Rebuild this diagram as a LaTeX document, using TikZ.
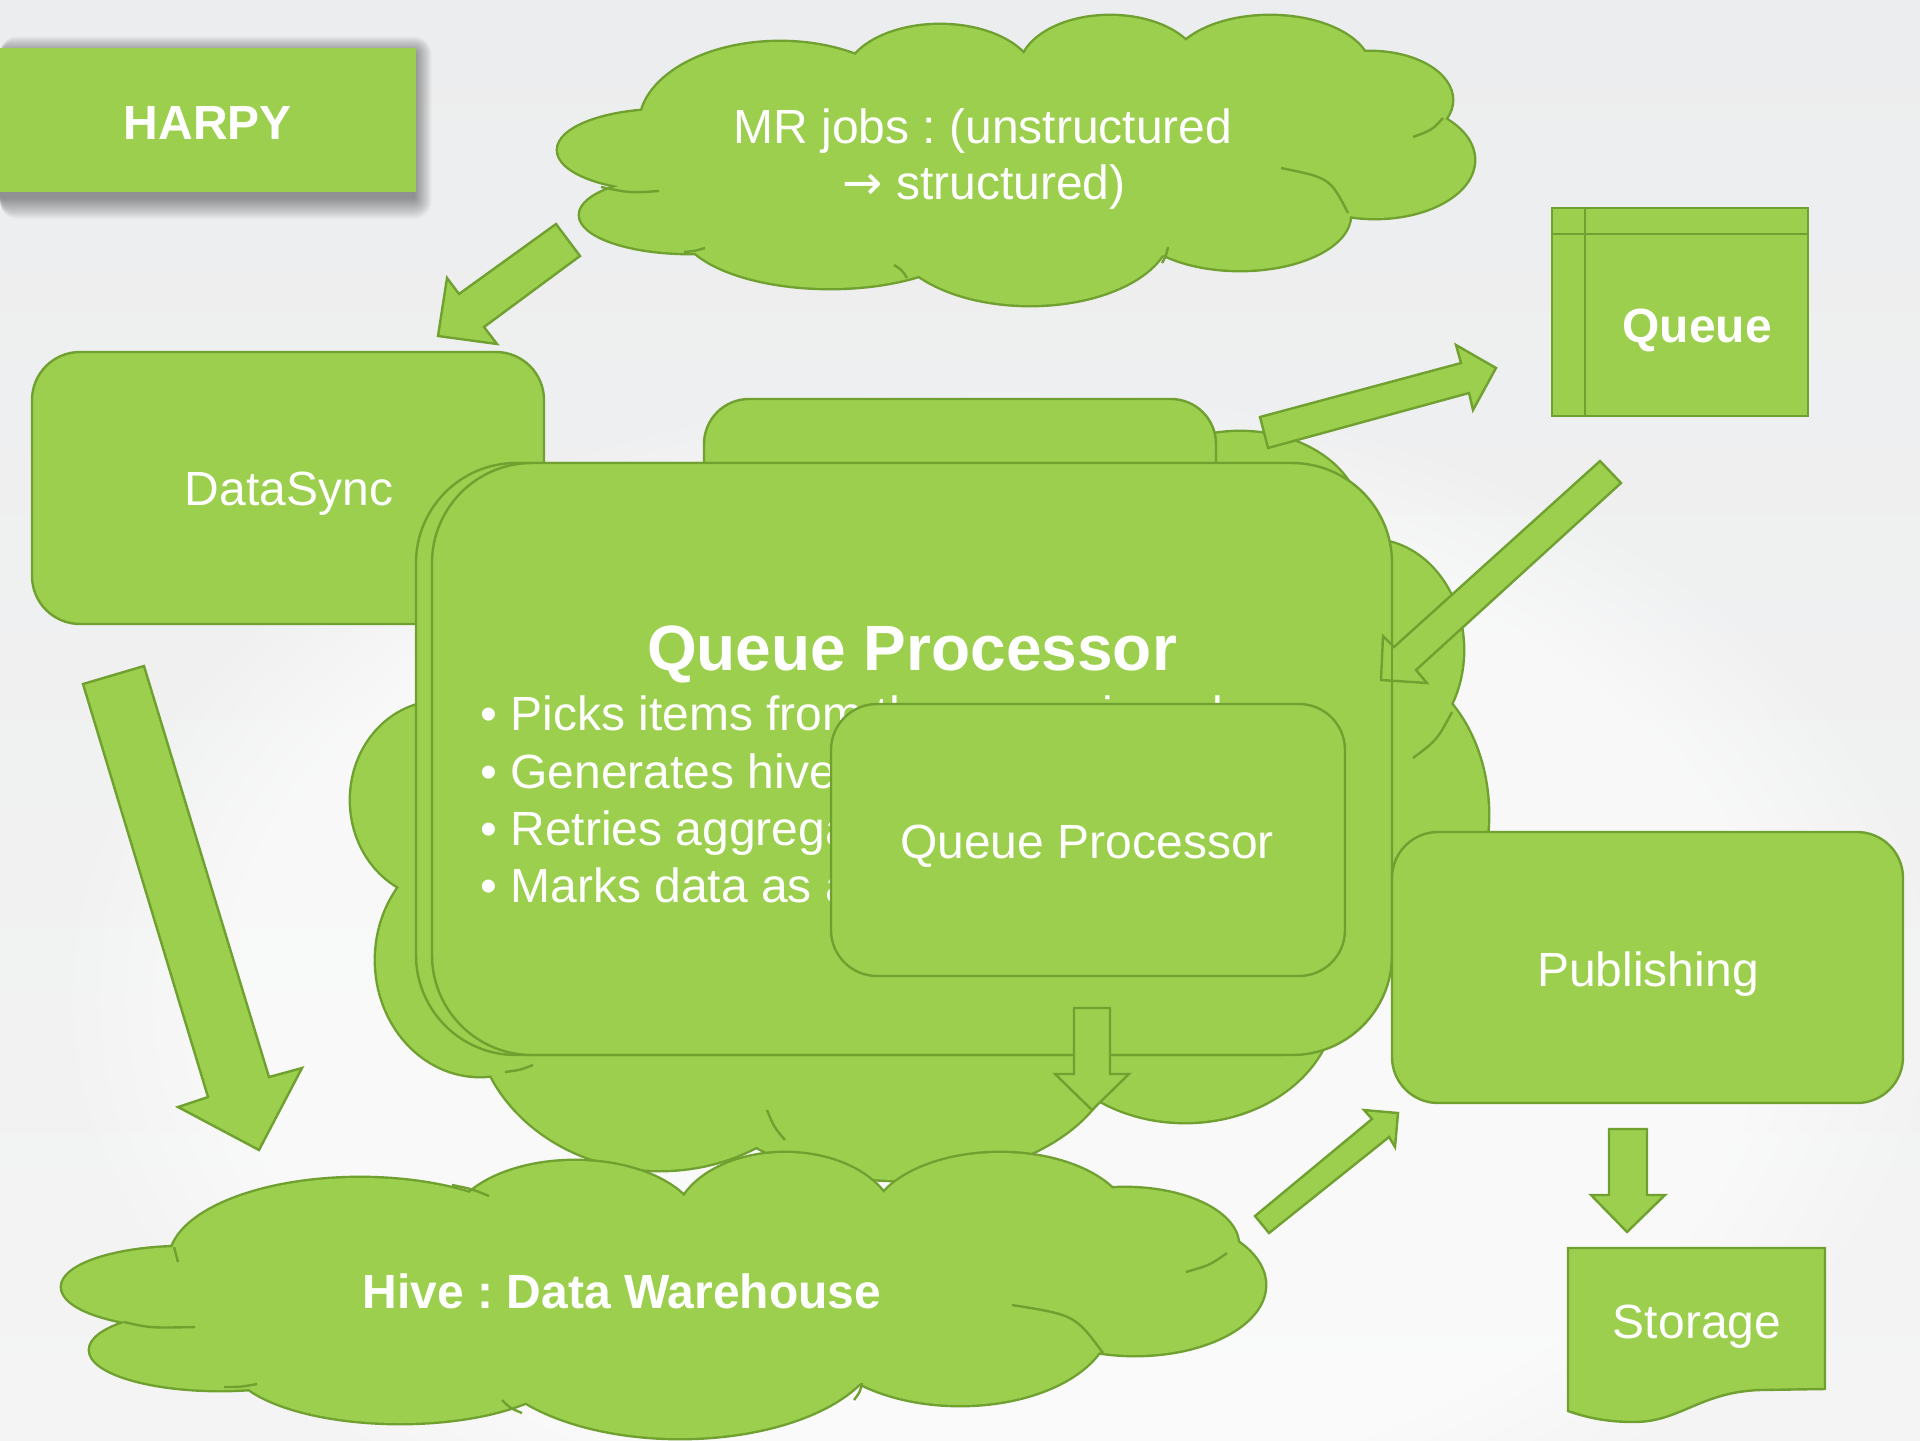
\documentclass[tikz,border=0pt]{standalone}
\usepackage{fontspec}
\setmainfont{Liberation Sans}
\newfontfamily\arrowfont{DejaVu Sans}
\usetikzlibrary{fadings}
\frenchspacing
\definecolor{gfill}{HTML}{9BCF4D}
\definecolor{gline}{HTML}{70A030}
\definecolor{bgtop}{HTML}{ECEDEE}
\definecolor{bgmid}{HTML}{CCCED1}
\definecolor{bgbot}{HTML}{F4F4F4}
\tikzset{
  shp/.style={fill=gfill, draw=gline, line width=1.2pt, line join=miter},
  puffline/.style={draw=gline, line width=2.4pt},
  pufffill/.style={fill=gfill},
  inarc/.style={draw=gline, line width=1.2pt},
  lbl/.style={text=white, font=\fontsize{24}{28.8}\selectfont, inner sep=0pt, anchor=base},
  lblb/.style={lbl, font=\fontsize{24}{28.8}\selectfont\bfseries},
}
\newcommand\mrpuffs[1]{\path[#1]
 (665,150) ellipse [x radius=107, y radius=40]
 (690,215) ellipse [x radius=110, y radius=38]
 (830,225) ellipse [x radius=150, y radius=63]
 (1030,230) ellipse [x radius=140, y radius=75]
 (1240,215) ellipse [x radius=110, y radius=55]
 (1375,160) ellipse [x radius=99, y radius=58]
 (1370,100) ellipse [x radius=82, y radius=48]
 (1270,70) ellipse [x radius=100, y radius=54]
 (1110,70) ellipse [x radius=90, y radius=54]
 (940,80) ellipse [x radius=95, y radius=55]
 (780,125) ellipse [x radius=140, y radius=83];}
\newcommand\hivepuffs[1]{\path[#1]
 (185,1287) ellipse [x radius=123, y radius=40]
 (220,1350) ellipse [x radius=130, y radius=40]
 (400,1360) ellipse [x radius=170, y radius=63]
 (680,1340) ellipse [x radius=200, y radius=98]
 (960,1320) ellipse [x radius=150, y radius=85]
 (1135,1285) ellipse [x radius=130, y radius=70]
 (1125,1245) ellipse [x radius=113, y radius=57]
 (1000,1225) ellipse [x radius=130, y radius=72]
 (785,1225) ellipse [x radius=110, y radius=72]
 (575,1230) ellipse [x radius=125, y radius=69]
 (360,1260) ellipse [x radius=190, y radius=82];}
\newcommand\bigpuffs[1]{\path[#1]
 (440,800) ellipse [x radius=89, y radius=98]
 (480,960) ellipse [x radius=104, y radius=116]
 (660,1010) ellipse [x radius=185, y radius=160]
 (900,1050) ellipse [x radius=215, y radius=130]
 (1185,1000) ellipse [x radius=150, y radius=122]
 (1370,650) ellipse [x radius=93, y radius=110]
 (1375,815) ellipse [x radius=113, y radius=150]
 (1240,520) ellipse [x radius=120, y radius=88];}
\begin{document}
\begin{tikzpicture}[x=0.5pt, y=-0.5pt]
\useasboundingbox (0,0) rectangle (1920,1440);
% background
\shade[top color=bgtop, middle color=bgmid, bottom color=bgbot] (0,0) rectangle (1920,1440);
\fill[white, opacity=0.55, path fading=circle with fuzzy edge 20 percent] (1000,1000) ellipse [x radius=950, y radius=620];

% HARPY box with soft shadow
\foreach \k in {1,...,22} {
  \fill[black, opacity=0.02, rounded corners={\k*0.4pt}] (0,{54-\k*0.8}) rectangle ({414+\k*0.8},{197+\k});
}
\fill[gfill] (0,48) rectangle (416,192);
\node[lblb] (harpy) at (208,139) {HARPY};

% MR jobs cloud
\mrpuffs{puffline}
\mrpuffs{pufffill}
\fill[gfill] (1000,165) ellipse [x radius=380, y radius=100];
\draw[inarc] (601,187) .. controls (630,193) .. (659,191);
\draw[inarc] (684,252) .. controls (695,251) .. (705,248);
\draw[inarc] (894,265) .. controls (902,270) .. (907,278);
\draw[inarc] (1168,247) .. controls (1166,256) .. (1162,263);
\draw[inarc] (1281,168) .. controls (1330,178) .. (1348,213);
\draw[inarc] (1413,137) .. controls (1432,130) .. (1443,118);
\node[lbl] (mr1) at (983,143) {MR jobs : (unstructured};
\node[lbl] (mr2) at (984,199) {{\arrowfont →} structured)};

% arrow MR -> DataSync
\draw[shp] (556,224) -- (459,294) -- (447,278) -- (438,336) -- (497,344) -- (484,327) -- (580,256) -- cycle;

% DataSync
\draw[shp, rounded corners=24pt] (32,352) rectangle (544,624);
\node[lbl] (ds) at (289,505) {DataSync};

% arrow DataSync -> Hive
\draw[shp] (83,684) -- (208,1097) -- (178,1107) -- (259,1150) -- (302,1068) -- (269,1077) -- (144,666) -- cycle;

% big cloud behind Queue Processor
\bigpuffs{puffline}
\bigpuffs{pufffill}
\draw[inarc] (505,1072) .. controls (520,1070) .. (533,1065);
\draw[inarc] (767,1110) .. controls (774,1127) .. (785,1140);
\draw[inarc] (1413,758) .. controls (1437,740) .. (1452,712);

% tab behind
\draw[shp, rounded corners=22.5pt] (704,399) rectangle (1216,620);

% main Queue Processor boxes
\draw[shp, rounded corners=50pt] (416,463) rectangle (1376,1055);
\draw[shp, rounded corners=50pt] (432,463) rectangle (1392,1055);
\node[lbl, font=\fontsize{32}{38}\selectfont\bfseries] (qpt) at (912,670) {Queue Processor};
\node[lbl, anchor=base west] (bl1) at (480,730) {• Picks items from the queue in order};
\node[lbl, anchor=base west] (bl2) at (480,788) {• Generates hive};
\node[lbl, anchor=base west] (bl3) at (480,845) {• Retries aggrega};
\node[lbl, anchor=base west] (bl4) at (480,902) {• Marks data as a};

% inner Queue Processor box
\draw[shp, rounded corners=23pt] (831,704) rectangle (1345,976);
\node[lbl] (qp2) at (1087,858) {Queue Processor};

% arrow down from inner box
\draw[shp] (1074,1008) -- (1074,1074) -- (1055,1074) -- (1092,1110) -- (1129,1074) -- (1110,1074) -- (1110,1008) -- cycle;

% Hive cloud
\hivepuffs{puffline}
\hivepuffs{pufffill}
\fill[gfill] (660,1300) ellipse [x radius=480, y radius=90];
\draw[inarc] (124,1322) .. controls (150,1328) .. (195,1327);
\draw[inarc] (224,1387) .. controls (240,1387) .. (257,1384);
\draw[inarc] (502,1400) .. controls (510,1408) .. (522,1413);
\draw[inarc] (862,1383) .. controls (860,1392) .. (854,1400);
\draw[inarc] (1012,1305) .. controls (1075,1315) .. (1103,1353);
\draw[inarc] (1186,1272) .. controls (1210,1265) .. (1227,1253);
\draw[inarc] (452,1185) .. controls (472,1189) .. (489,1196);
\draw[inarc] (174,1247) -- (178,1262);
\node[lblb] (hive) at (622,1308) {Hive : Data Warehouse};

% arrow Hive -> Publishing
\draw[shp] (1255,1216) -- (1372,1119) -- (1364,1110) -- (1398,1113) -- (1395,1147) -- (1389,1137) -- (1269,1233) -- cycle;

% Publishing
\draw[shp, rounded corners=23pt] (1392,832) rectangle (1903,1103);
\node[lbl] (pub) at (1648,986) {Publishing};

% arrow QP -> Queue
\draw[shp] (1260,417) -- (1461,363) -- (1456,345) -- (1496,368) -- (1473,410) -- (1469,393) -- (1268,448) -- cycle;

% Queue (internal storage)
\draw[shp] (1552,208) rectangle (1808,416);
\draw[draw=gline, line width=1.2pt] (1585,208) -- (1585,416) (1552,234) -- (1808,234);
\node[lblb] (qu) at (1697,342) {Queue};

% arrow Queue -> QP
\draw[shp] (1600,461) -- (1394,647) -- (1383,636) -- (1381,680) -- (1427,683) -- (1416,670) -- (1621,483) -- cycle;
\draw[draw=gline, line width=1.2pt] (1392,630) -- (1392,700);

% arrow Publishing -> Storage
\draw[shp] (1609,1129) -- (1609,1195) -- (1591,1195) -- (1627,1232) -- (1665,1195) -- (1647,1195) -- (1647,1129) -- cycle;

% Storage (document)
\draw[shp] (1568,1248) -- (1825,1248) -- (1825,1389) -- (1760,1390) .. controls (1700,1392) and (1680,1422) .. (1634,1422) .. controls (1605,1422) and (1585,1417) .. (1568,1411) -- cycle;
\node[lbl] (sto) at (1697,1338) {Storage};
\end{tikzpicture}
\end{document}
